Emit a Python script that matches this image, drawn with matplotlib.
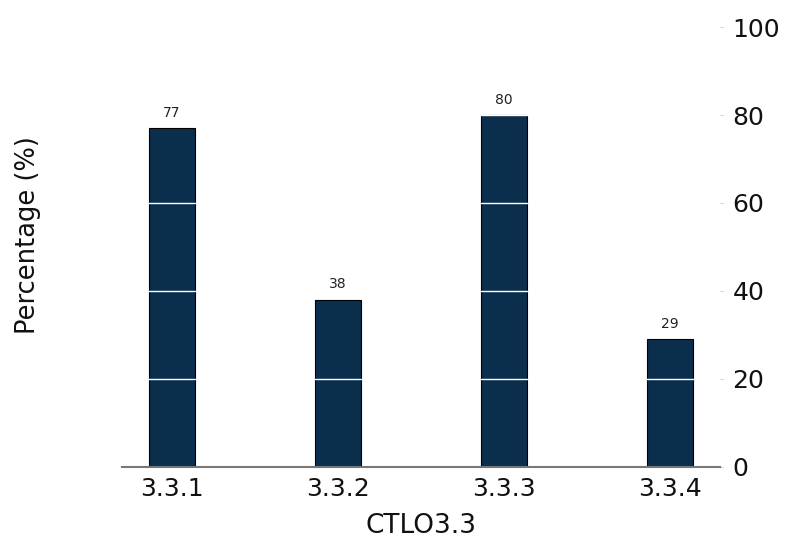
import matplotlib.pyplot as plt

categories = ["3.3.1", "3.3.2", "3.3.3", "3.3.4"]
percentages = [77, 38, 80, 29]
y_ticks = [0, 20, 40, 60, 80, 100]

BAR_COLOR = "#0b2e4c"

plt.rcParams['font.family'] = ['DejaVu Sans']

fig = plt.figure(figsize=(7.93, 5.41), dpi=100)
ax = fig.add_axes([0.154, 0.137, 0.754, 0.813])

x = range(len(categories))
bars = ax.bar(x, percentages, width=0.28, color=BAR_COLOR,
              edgecolor="black", linewidth=0.8, zorder=1)

for rect, val in zip(bars, percentages):
    ax.annotate(str(val), (rect.get_x() + rect.get_width() / 2, rect.get_height()),
                xytext=(0, 6), textcoords="offset points",
                ha="center", va="bottom", fontsize=10, color="#222222")

ax.set_xlim(-0.3, 3.3)
ax.set_ylim(0, 100)
ax.set_xticks(list(x))
ax.set_xticklabels(categories)
ax.set_yticks(y_ticks)

ax.yaxis.tick_right()
ax.tick_params(axis="y", length=2, width=0.5, color="#bbbbbb", labelsize=18,
               labelcolor="#111111", pad=7)
ax.tick_params(axis="x", length=0, labelsize=18, labelcolor="#111111", pad=7)

# white grid drawn over the bars
ax.set_axisbelow(False)
ax.yaxis.grid(True, color="white", linewidth=1)
ax.xaxis.grid(False)

for side in ["top", "left", "right"]:
    ax.spines[side].set_visible(False)
ax.spines["bottom"].set_color("#777777")
ax.spines["bottom"].set_linewidth(1.5)
ax.spines["bottom"].set_zorder(3)

ax.set_xlabel("CTLO3.3", fontsize=19, labelpad=9, color="#111111")
fig.text(0.035, 0.566, "Percentage (%)", rotation=90, fontsize=18.5,
         ha="center", va="center", color="#111111")

fig.savefig("out.png", dpi=100)
